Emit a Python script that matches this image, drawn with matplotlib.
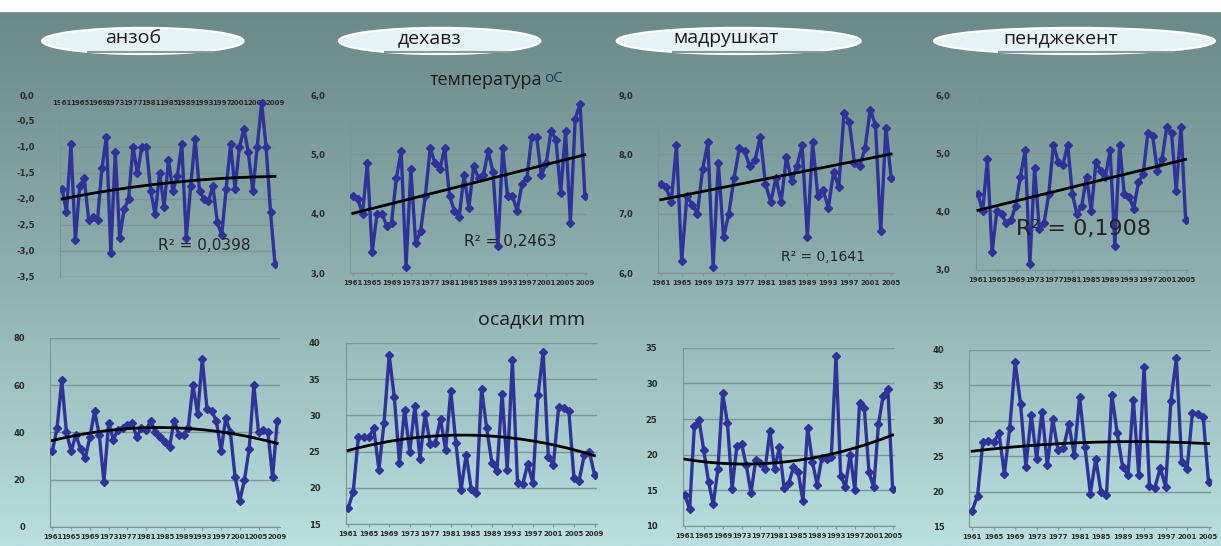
import numpy as np
import matplotlib.pyplot as plt
from matplotlib.patches import Ellipse
from matplotlib.colors import LinearSegmentedColormap

stations = ['анзоб', 'дехавз', 'мадрушкат', 'пенджекент']
start_year = 1961

# mean annual temperature, oC
anzob_t = [-1.8, -2.25, -0.95, -2.8, -1.75, -1.6, -2.4, -2.35, -2.4, -1.4,
           -0.8, -3.05, -1.1, -2.75, -2.2, -2.0, -1.0, -1.5, -1.0, -1.0,
           -1.85, -2.3, -1.5, -2.15, -1.25, -1.85, -1.55, -0.95, -2.75, -1.75,
           -0.85, -1.85, -2.0, -2.05, -1.75, -2.45, -2.7, -1.8, -0.95, -1.8,
           -1.0, -0.65, -1.1, -1.85, -1.0, -0.15, -1.0, -2.25, -3.25]
dehavz_t = [4.3, 4.25, 4.0, 4.85, 3.35, 4.0, 4.0, 3.8, 3.85, 4.6,
            5.05, 3.1, 4.75, 3.5, 3.7, 4.3, 5.1, 4.85, 4.75, 5.1,
            4.3, 4.05, 3.95, 4.65, 4.1, 4.8, 4.6, 4.65, 5.05, 4.7,
            3.45, 5.1, 4.3, 4.3, 4.05, 4.5, 4.6, 5.3, 5.3, 4.65,
            4.85, 5.4, 5.25, 4.35, 5.4, 3.85, 5.6, 5.85, 4.3]
madr_t = [7.5, 7.45, 7.2, 8.15, 6.2, 7.3, 7.15, 7.0, 7.75, 8.2,
          6.1, 7.85, 6.6, 7.0, 7.6, 8.1, 8.05, 7.8, 7.9, 8.3,
          7.5, 7.2, 7.6, 7.2, 7.95, 7.55, 7.8, 8.15, 6.6, 8.2,
          7.3, 7.4, 7.1, 7.7, 7.45, 8.7, 8.55, 7.85, 7.8, 8.1,
          8.75, 8.5, 6.7, 8.45, 7.6]
pendj_t = [4.3, 4.0, 4.9, 3.3, 4.0, 3.95, 3.8, 3.85, 4.1, 4.6,
           5.05, 3.1, 4.75, 3.7, 3.8, 4.3, 5.15, 4.85, 4.8, 5.15,
           4.3, 3.95, 4.1, 4.6, 4.0, 4.85, 4.7, 4.6, 5.05, 3.4,
           5.15, 4.3, 4.25, 4.05, 4.5, 4.65, 5.35, 5.3, 4.7, 4.9,
           5.45, 5.35, 4.35, 5.45, 3.85]

# precipitation, mm
anzob_p = [32, 42, 62, 40, 32, 39, 33, 29, 38, 49,
           39, 19, 44, 37, 41, 42, 43, 44, 38, 42,
           41, 45, 40, 38, 36, 34, 45, 39, 39, 42,
           60, 48, 71, 50, 49, 45, 32, 46, 40, 21,
           11, 20, 33, 60, 40, 41, 40, 21, 45]
dehavz_p = [17.2, 19.5, 27, 27, 27, 28.2, 22.5, 29, 38.3, 32.5,
            23.5, 30.8, 25, 31.3, 24, 30.2, 26, 26.2, 29.5, 25.2,
            33.4, 26.2, 19.7, 24.6, 19.8, 19.3, 33.7, 28.2, 23.5, 22.3,
            33, 22.5, 37.6, 20.7, 20.5, 23.3, 20.7, 32.8, 38.8, 24.2,
            23.2, 31.1, 31, 30.6, 21.3, 21, 24.5, 25, 21.8]
madr_p = [14.3, 12.3, 24, 24.8, 20.6, 16.2, 13, 18, 28.6, 24.5,
          15.2, 21.2, 21.5, 18.5, 14.6, 19.2, 18.8, 18, 23.3, 18,
          21, 15.3, 16, 18.2, 17.5, 13.5, 23.8, 19, 15.8, 19.5,
          19.4, 19.6, 33.8, 17, 15.5, 20, 15, 27.3, 26.5, 17.5,
          15.4, 24.3, 28.3, 29.2, 15.1]
pendj_p = [17.3, 19.4, 27, 27.2, 27, 28.2, 22.5, 29, 38.3, 32.4,
           23.5, 30.8, 24.6, 31.3, 23.7, 30.2, 25.8, 26.2, 29.5, 25.2,
           33.4, 26.3, 19.7, 24.6, 19.9, 19.5, 33.7, 28.2, 23.5, 22.3,
           33, 22.4, 37.6, 20.8, 20.5, 23.3, 20.7, 32.8, 38.8, 24.2,
           23.2, 31.1, 31, 30.6, 21.3]

r2_labels = ['R² = 0,0398', 'R² = 0,2463', 'R² = 0,1641', 'R² = 0,1908']

line_blue = '#2f3299'
grid_col = '#7e9595'


def fmt_temp(v):
    return ('%.1f' % v).replace('.', ',')


def fmt_prec(v):
    return '%d' % v


def panel(rect, values, ylim, ystep, deg, fmt, top_axis=False):
    ax = fig.add_axes(rect)
    ax.set_facecolor('none')
    x = np.arange(len(values))
    ax.plot(x, values, color=line_blue, lw=2.4, marker='D', ms=4.5,
            mec=line_blue, zorder=3)
    # polynomial trend line fitted to the series
    coef = np.polyfit(x, values, deg)
    xs = np.linspace(0, len(values) - 1, 200)
    ax.plot(xs, np.polyval(coef, xs), color='black', lw=2, zorder=4)
    ax.set_xlim(-0.5, len(values) - 0.5)
    ax.set_ylim(*ylim)
    ticks = np.arange(ylim[0], ylim[1] + ystep / 2, ystep)
    ax.set_yticks(ticks)
    ax.set_yticklabels([fmt(t) for t in ticks], fontsize=6,
                       fontweight='bold', color='#2a2a2a')
    ax.tick_params(axis='y', length=0, pad=18)
    ax.set_xticks(x[::4])
    ax.set_xticklabels([str(start_year + i) for i in x[::4]], fontsize=5,
                       color='#2a2a2a', fontweight='bold')
    ax.grid(axis='y', color=grid_col, lw=1)
    for s in ['right', 'top', 'bottom', 'left']:
        ax.spines[s].set_visible(False)
    ax.spines['left'].set_visible(True)
    ax.spines['left'].set_color(grid_col)
    if top_axis:
        ax.xaxis.tick_top()
        ax.tick_params(axis='x', length=0, pad=-8)
        ax.spines['top'].set_visible(True)
        ax.spines['top'].set_color(grid_col)
    else:
        ax.tick_params(axis='x', length=2, color=grid_col, pad=3)
        ax.spines['bottom'].set_visible(True)
        ax.spines['bottom'].set_color(grid_col)
    return ax


fig = plt.figure(figsize=(12.21, 5.46), dpi=100)

# background: white strip at the top, teal gradient below
bg = fig.add_axes([0, 0, 1, 1], zorder=-10)
bg.set_axis_off()
cmap = LinearSegmentedColormap.from_list('bg', ['#6c8888', '#8fb0b0', '#b9dfdf'])
grad = np.linspace(0, 1, 256).reshape(-1, 1)
bg.imshow(grad, aspect='auto', cmap=cmap, extent=[0, 1, 0, 0.98])
bg.axhspan(0.98, 1, color='white')
bg.set_xlim(0, 1)
bg.set_ylim(0, 1)

# station name bubbles
bubble_x = [0.117, 0.36, 0.605, 0.88]
bubble_w = [0.165, 0.165, 0.2, 0.23]
for name, cx, w in zip(stations, bubble_x, bubble_w):
    bg.add_patch(Ellipse((cx, 0.925), w, 0.048, facecolor='#e6f3f5',
                         edgecolor='white', lw=1.5))
    bg.plot([cx - w * 0.27, cx + w * 0.35], [0.905, 0.905], color='#8a9898', lw=1.5)
    bg.text(cx - w * 0.05, 0.93, name, ha='center', va='center', fontsize=14,
            family='Open Sans', color='#1a1a1a')

bg.text(0.352, 0.853, 'температура', ha='left', va='center', fontsize=13,
        family='Open Sans', color='#1a1a1a')
bg.text(0.446, 0.856, 'oC', ha='left', va='center', fontsize=11,
        family='Open Sans', color='#1f3a66')
bg.text(0.435, 0.415, 'осадки mm', ha='center', va='center', fontsize=14,
        family='Open Sans', color='#1a1a1a')

ax1 = panel([0.049, 0.493, 0.178, 0.333], anzob_t, (-3.5, 0.0), 0.5, 2, fmt_temp, top_axis=True)
ax2 = panel([0.287, 0.500, 0.194, 0.326], dehavz_t, (3.0, 6.0), 1.0, 1, fmt_temp)
ax3 = panel([0.539, 0.500, 0.193, 0.326], madr_t, (6.0, 9.0), 1.0, 1, fmt_temp)
ax4 = panel([0.799, 0.506, 0.174, 0.320], pendj_t, (3.0, 6.0), 1.0, 1, fmt_temp)
ax5 = panel([0.041, 0.035, 0.188, 0.346], anzob_p, (0, 80), 20, 2, fmt_prec)
ax6 = panel([0.283, 0.040, 0.206, 0.332], dehavz_p, (15, 40), 5, 2, fmt_prec)
ax7 = panel([0.559, 0.037, 0.174, 0.326], madr_p, (10, 35), 5, 2, fmt_prec)
ax8 = panel([0.794, 0.035, 0.198, 0.324], pendj_p, (15, 40), 5, 2, fmt_prec)

# R^2 labels of the temperature trend lines
ax1.text(0.45, 0.15, r2_labels[0], transform=ax1.transAxes, fontsize=11, color='#222222')
ax2.text(0.48, 0.15, r2_labels[1], transform=ax2.transAxes, fontsize=11, color='#222222')
ax3.text(0.52, 0.07, r2_labels[2], transform=ax3.transAxes, fontsize=10, color='#222222')
ax4.text(0.19, 0.2, r2_labels[3], transform=ax4.transAxes, fontsize=16, color='#222222')

fig.savefig('out.png', dpi=100)
